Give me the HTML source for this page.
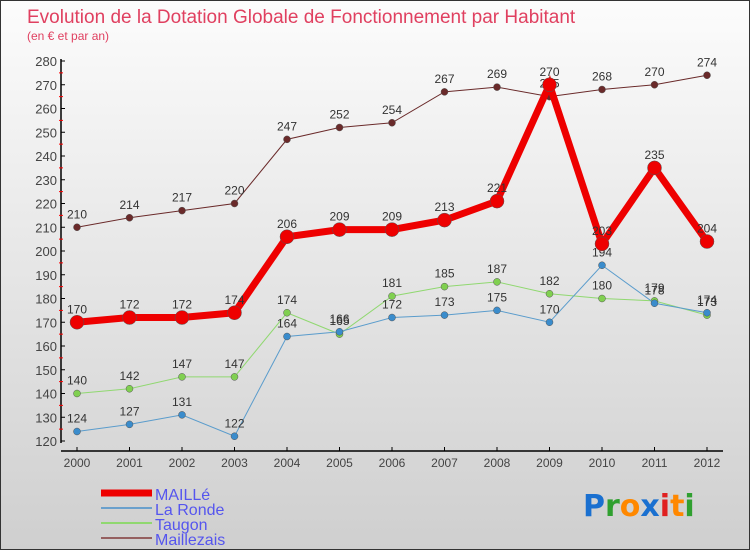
<!DOCTYPE html>
<html><head><meta charset="utf-8"><style>
body{margin:0;}
#c{width:750px;height:550px;position:relative;box-sizing:border-box;border:1px solid #333;background:linear-gradient(#fcfcfc,#cfcfcf);font-family:"Liberation Sans",sans-serif;overflow:hidden}
</style></head><body>
<div id="c">
<svg width="750" height="550" style="position:absolute;left:0;top:0" id="s">
<text x="26" y="22" font-size="19" fill="#e04060">Evolution de la Dotation Globale de Fonctionnement par Habitant</text>
<text x="26" y="39" font-size="12" fill="#e04060">(en € et par an)</text>
<g id="axes"></g><g id="series"></g><g id="legend"></g>
<text x="582" y="515" font-size="30" font-family="DejaVu Sans" font-weight="bold"><tspan fill="#1a70d0">P</tspan><tspan fill="#30a030">r</tspan><tspan fill="#ff8800">o</tspan><tspan fill="#1a70d0">x</tspan><tspan fill="#e02020">i</tspan><tspan fill="#ff8800">t</tspan><tspan fill="#30a030">i</tspan></text>
</svg>
</div>
<script>
const years=[2000,2001,2002,2003,2004,2005,2006,2007,2008,2009,2010,2011,2012];
const yTicks=[120,130,140,150,160,170,180,190,200,210,220,230,240,250,260,270,280];
const maille=[170,172,172,174,206,209,209,213,221,270,203,235,204];
const laRonde=[124,127,131,122,164,166,172,173,175,170,194,178,174];
const taugon=[140,142,147,147,174,165,181,185,187,182,180,179,173];
const maillezais=[210,214,217,220,247,252,254,267,269,265,268,270,274];
const NS="http://www.w3.org/2000/svg";
function X(i){return 76+i*52.5;}
function Y(v){return 60+(280-v)*(380/160);}
function mk(t,a,p){const e=document.createElementNS(NS,t);for(const k in a)e.setAttribute(k,a[k]);p.appendChild(e);return e;}
const ax=document.getElementById('axes');
const yl=mk('line',{x1:60,y1:58,x2:60,y2:442,stroke:'#000','stroke-width':1.5},ax);


const xl=mk('line',{x1:60,y1:450,x2:722,y2:450,stroke:'#000','stroke-width':1.5},ax);


yTicks.forEach(v=>{
 mk('line',{x1:60,y1:Y(v),x2:64,y2:Y(v),stroke:'#000'},ax);
 if(v<280) mk('line',{x1:58,y1:Y(v+5),x2:62,y2:Y(v+5),stroke:'#f00'},ax);
 const t=mk('text',{x:56,y:Y(v)+5,'text-anchor':'end','font-size':13,fill:'#444'},ax);t.textContent=v;
 
 
});
years.forEach((y,i)=>{
 mk('line',{x1:X(i),y1:446,x2:X(i),y2:450,stroke:'#000'},ax);
 const t=mk('text',{x:X(i),y:466,'text-anchor':'middle','font-size':12,fill:'#444'},ax);t.textContent=y;
 
 
});
const sg=document.getElementById('series');
function series(data,color,dot,w,r,name){
 const g=mk('g',{},sg);
 
 
 mk('polyline',{points:data.map((v,i)=>X(i)+','+Y(v)).join(' '),fill:'none',stroke:color,'stroke-width':w},g);
 data.forEach((v,i)=>{
  const c=mk('circle',{cx:X(i),cy:Y(v),r:r,fill:dot,stroke:'#555','stroke-width':0.5},g);
  
  
  const t=mk('text',{x:X(i),y:Y(v)-9,'text-anchor':'middle','font-size':12,fill:'#333'},g);t.textContent=v;
  
  
 });
}
series(maillezais,'#6a2a2a','#6a2a2a',1,3.5,'maillezais');
series(taugon,'#90d870','#80d050',1,3.5,'taugon');
series(laRonde,'#5a9ccc','#3a8ccc',1,3.5,'la-ronde');
series(maille,'#ee0000','#ee0000',7,7,'maille');
const lg=document.getElementById('legend');
[['MAILLé','#ee0000',7],['La Ronde','#6aa0cc',2],['Taugon','#90d870',2],['Maillezais','#956060',2]].forEach((d,i)=>{
 const y=492+i*15;
 const g=mk('g',{},lg);
 
 
 mk('line',{x1:100,y1:y,x2:151,y2:y,stroke:d[1],'stroke-width':d[2]},g);
 const t=mk('text',{x:154,y:y+7,'font-size':16,fill:'#5555ee'},g);t.textContent=d[0];
});
</script>
</body></html>
